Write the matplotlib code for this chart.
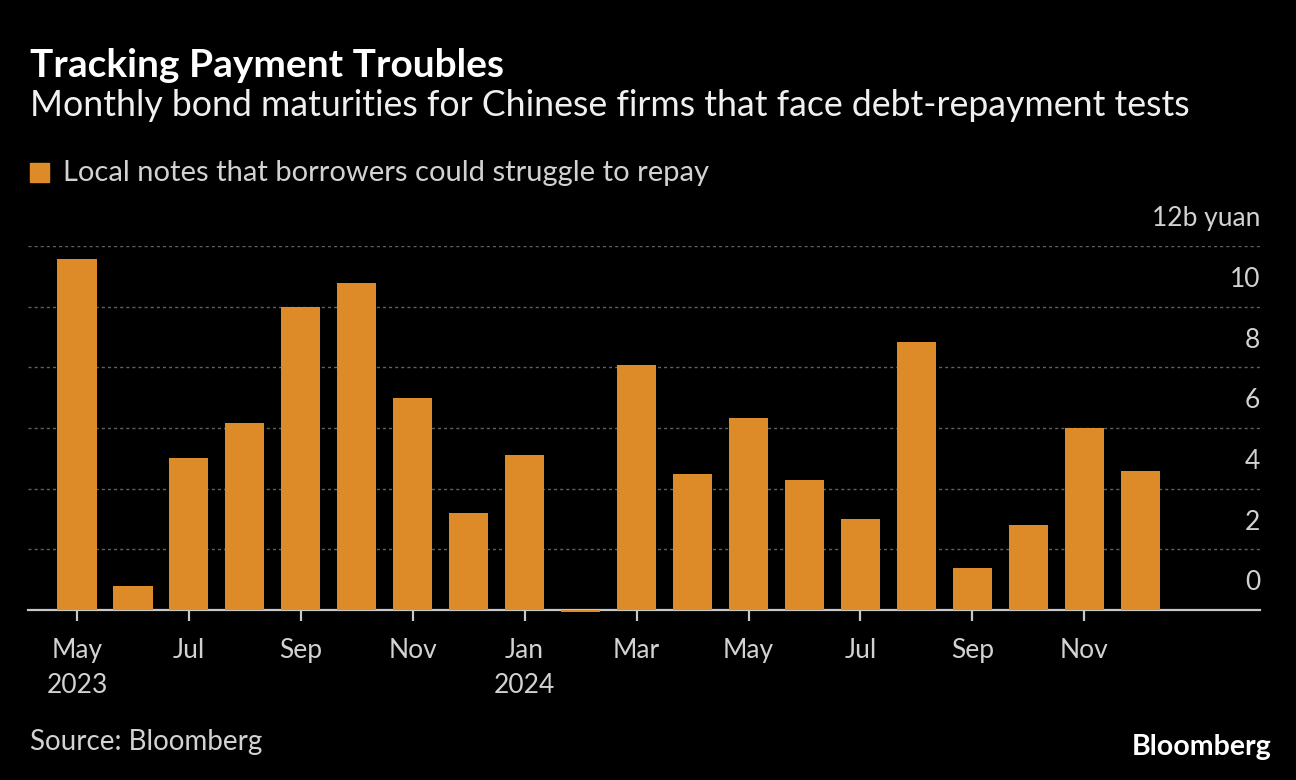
import matplotlib
matplotlib.use("Agg")
import matplotlib.pyplot as plt
from matplotlib.patches import Rectangle

plt.rcParams['font.family'] = ['Lato', 'DejaVu Sans']

# ---- data ----
months = ["May 2023", "Jun 2023", "Jul 2023", "Aug 2023", "Sep 2023", "Oct 2023",
          "Nov 2023", "Dec 2023", "Jan 2024", "Feb 2024", "Mar 2024", "Apr 2024",
          "May 2024", "Jun 2024", "Jul 2024", "Aug 2024", "Sep 2024", "Oct 2024",
          "Nov 2024", "Dec 2024"]
values = [11.58, 0.78, 5.0, 6.18, 10.0, 10.79, 7.0, 3.19, 5.1, -0.08,
          8.09, 4.5, 6.32, 4.28, 3.0, 8.82, 1.38, 2.8, 5.99, 4.57]
tick_idx = [0, 2, 4, 6, 8, 10, 12, 14, 16, 18]
tick_labels = ["May\n2023", "Jul", "Sep", "Nov", "Jan\n2024", "Mar", "May", "Jul", "Sep", "Nov"]
y_ticks = [0, 2, 4, 6, 8, 10, 12]
y_labels = ["0", "2", "4", "6", "8", "10", "12b yuan"]

BG = "#000000"
BAR = "#dd8b28"
GRID = "#606060"
AXIS = "#c8c8c8"
TXT = "#d2d2d2"

W, H = 1296, 780
fig = plt.figure(figsize=(W / 100, H / 100), dpi=100, facecolor=BG)

left, right, top, bottom = 28, 1260, 246, 610
ax = fig.add_axes([left / W, 1 - bottom / H, (right - left) / W, (bottom - top) / H])
ax.set_facecolor(BG)

x = list(range(len(values)))
ax.bar(x, values, width=0.7, color=BAR, clip_on=False, zorder=5)

ax.set_xlim(-0.875, 21.14)
ax.set_ylim(0, 12)

for s in ["top", "left", "right"]:
    ax.spines[s].set_visible(False)
ax.spines["bottom"].set_color(AXIS)
ax.spines["bottom"].set_linewidth(1.6)
ax.spines["bottom"].set_zorder(4)

ax.set_yticks(y_ticks)
ax.tick_params(axis="y", left=False, labelleft=False)
for v in y_ticks[1:]:
    ax.axhline(v, color=GRID, lw=1.0, ls=(0, (2.2, 2.2)), zorder=1)

for v, lab in zip(y_ticks, y_labels):
    ax.annotate(lab, xy=(1.0, v), xycoords=("axes fraction", "data"),
                xytext=(0, 19.5), textcoords="offset points",
                ha="right", va="center", color=TXT, fontsize=19)

ax.set_xticks(tick_idx)
ax.set_xticklabels(tick_labels, fontsize=19, color=TXT, linespacing=1.5)
ax.tick_params(axis="x", length=8, width=1.6, color=AXIS, pad=12)

# ---- header ----
fig.text(30 / W, 1 - 77 / H, "Tracking Payment Troubles", color="white",
         fontsize=28, fontweight="bold", va="baseline", ha="left")
fig.text(30 / W, 1 - 116 / H,
         "Monthly bond maturities for Chinese firms that face debt-repayment tests",
         color="#f0f0f0", fontsize=25.7, va="baseline", ha="left")

fig.patches.append(Rectangle((30 / W, 1 - 182 / H), 19 / W, 19 / H,
                             transform=fig.transFigure, color=BAR))
fig.text(63 / W, 1 - 181 / H, "Local notes that borrowers could struggle to repay",
         color=TXT, fontsize=21, va="baseline", ha="left")

# ---- footer ----
fig.text(30 / W, 1 - 750 / H, "Source: Bloomberg", color=TXT, fontsize=20,
         va="baseline", ha="left")
fig.text(1272 / W, 1 - 755 / H, "Bloomberg", color="white", fontsize=20.5,
         fontweight="bold", va="baseline", ha="right")

fig.savefig("out.png", dpi=100, facecolor=BG)
